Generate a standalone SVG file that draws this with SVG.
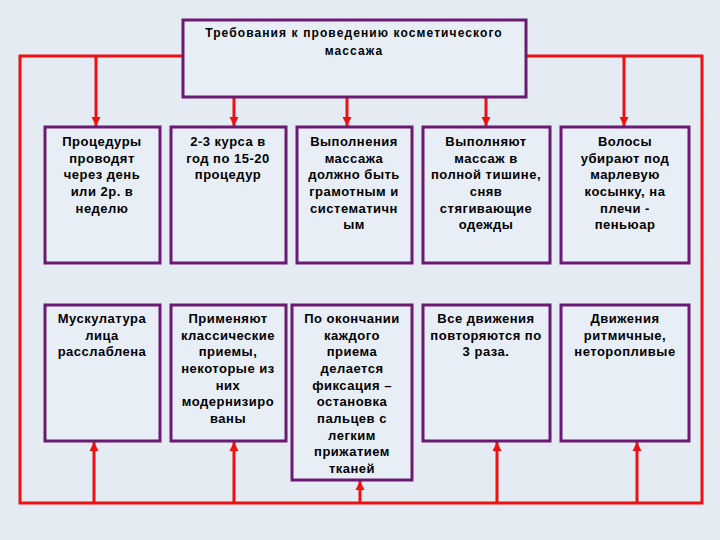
<svg xmlns="http://www.w3.org/2000/svg" width="720" height="540" viewBox="0 0 720 540">
<defs>
<style>
.box{fill:#e8eef6;stroke:#6a1a72;stroke-width:3}
.t{font-family:"Liberation Sans",Arial,sans-serif;font-weight:bold;font-size:13px;letter-spacing:0.5px;fill:#000;text-anchor:middle}
.tt{font-family:"Liberation Sans",Arial,sans-serif;font-weight:bold;font-size:12px;letter-spacing:1.1px;fill:#000;text-anchor:middle}
.c{stroke:#ee1111;stroke-width:3;fill:none}
</style>
<marker id="ah" viewBox="0 0 10 10" refX="10" refY="5" markerWidth="3" markerHeight="3.4" orient="auto" markerUnits="strokeWidth">
<path d="M0,0 L10,5 L0,10 z" fill="#ee1111"/>
</marker>
</defs>
<rect width="720" height="540" fill="#e4ebf3"/>
<g id="connectors">
<path class="c" d="M183,56 H20 V503 H702 V56 H526"/>
<line class="c" x1="96" y1="56" x2="96" y2="126" marker-end="url(#ah)"/>
<line class="c" x1="624" y1="56" x2="624" y2="126" marker-end="url(#ah)"/>
<line class="c" x1="234" y1="97" x2="234" y2="126" marker-end="url(#ah)"/>
<line class="c" x1="347" y1="97" x2="347" y2="126" marker-end="url(#ah)"/>
<line class="c" x1="486" y1="97" x2="486" y2="126" marker-end="url(#ah)"/>
<line class="c" x1="94" y1="503" x2="94" y2="442" marker-end="url(#ah)"/>
<line class="c" x1="234" y1="503" x2="234" y2="442" marker-end="url(#ah)"/>
<line class="c" x1="360" y1="503" x2="360" y2="481" marker-end="url(#ah)"/>
<line class="c" x1="497" y1="503" x2="497" y2="442" marker-end="url(#ah)"/>
<line class="c" x1="637" y1="503" x2="637" y2="442" marker-end="url(#ah)"/>
</g>
<g id="top">
<rect class="box" x="183" y="20" width="343" height="77" fill="#eef1f7"/>
<text class="tt" x="354" y="37">Требования к проведению косметического</text>
<text class="tt" x="354" y="55">массажа</text>
</g>
<g id="n1">
<rect class="box" x="45" y="127" width="115" height="136"/>
<text class="t" x="102" y="146">Процедуры</text>
<text class="t" x="102" y="162.7">проводят</text>
<text class="t" x="102" y="179.3">через день</text>
<text class="t" x="102" y="196">или 2р. в</text>
<text class="t" x="102" y="212.7">неделю</text>
</g>
<g id="n2">
<rect class="box" x="171" y="127" width="115" height="136"/>
<text class="t" x="228" y="146">2-3 курса в</text>
<text class="t" x="228" y="162.7">год по 15-20</text>
<text class="t" x="228" y="179.3">процедур</text>
</g>
<g id="n3">
<rect class="box" x="297" y="127" width="115" height="136"/>
<text class="t" x="354" y="146">Выполнения</text>
<text class="t" x="354" y="162.7">массажа</text>
<text class="t" x="354" y="179.3">должно быть</text>
<text class="t" x="354" y="196">грамотным и</text>
<text class="t" x="354" y="212.7">систематичн</text>
<text class="t" x="354" y="229.3">ым</text>
</g>
<g id="n4">
<rect class="box" x="423" y="127" width="127" height="136"/>
<text class="t" x="486" y="146">Выполняют</text>
<text class="t" x="486" y="162.7">массаж в</text>
<text class="t" x="486" y="179.3">полной тишине,</text>
<text class="t" x="486" y="196">сняв</text>
<text class="t" x="486" y="212.7">стягивающие</text>
<text class="t" x="486" y="229.3">одежды</text>
</g>
<g id="n5">
<rect class="box" x="561" y="127" width="128" height="136"/>
<text class="t" x="625" y="146">Волосы</text>
<text class="t" x="625" y="162.7">убирают под</text>
<text class="t" x="625" y="179.3">марлевую</text>
<text class="t" x="625" y="196">косынку, на</text>
<text class="t" x="625" y="212.7">плечи -</text>
<text class="t" x="625" y="229.3">пеньюар</text>
</g>
<g id="n6">
<rect class="box" x="45" y="305" width="115" height="136"/>
<text class="t" x="102" y="323">Мускулатура</text>
<text class="t" x="102" y="339.7">лица</text>
<text class="t" x="102" y="356.3">расслаблена</text>
</g>
<g id="n7">
<rect class="box" x="171" y="305" width="115" height="136"/>
<text class="t" x="228" y="323">Применяют</text>
<text class="t" x="228" y="339.7">классические</text>
<text class="t" x="228" y="356.3">приемы,</text>
<text class="t" x="228" y="373">некоторые из</text>
<text class="t" x="228" y="389.7">них</text>
<text class="t" x="228" y="406.3">модернизиро</text>
<text class="t" x="228" y="423">ваны</text>
</g>
<g id="n8">
<rect class="box" x="292" y="305" width="120" height="175"/>
<text class="t" x="352" y="323">По окончании</text>
<text class="t" x="352" y="339.7">каждого</text>
<text class="t" x="352" y="356.3">приема</text>
<text class="t" x="352" y="373">делается</text>
<text class="t" x="352" y="389.7">фиксация –</text>
<text class="t" x="352" y="406.3">остановка</text>
<text class="t" x="352" y="423">пальцев с</text>
<text class="t" x="352" y="439.7">легким</text>
<text class="t" x="352" y="456.3">прижатием</text>
<text class="t" x="352" y="473">тканей</text>
</g>
<g id="n9">
<rect class="box" x="423" y="305" width="127" height="136"/>
<text class="t" x="486" y="323">Все движения</text>
<text class="t" x="486" y="339.7">повторяются по</text>
<text class="t" x="486" y="356.3">3 раза.</text>
</g>
<g id="n10">
<rect class="box" x="561" y="305" width="128" height="136"/>
<text class="t" x="625" y="323">Движения</text>
<text class="t" x="625" y="339.7">ритмичные,</text>
<text class="t" x="625" y="356.3">неторопливые</text>
</g>
</svg>
